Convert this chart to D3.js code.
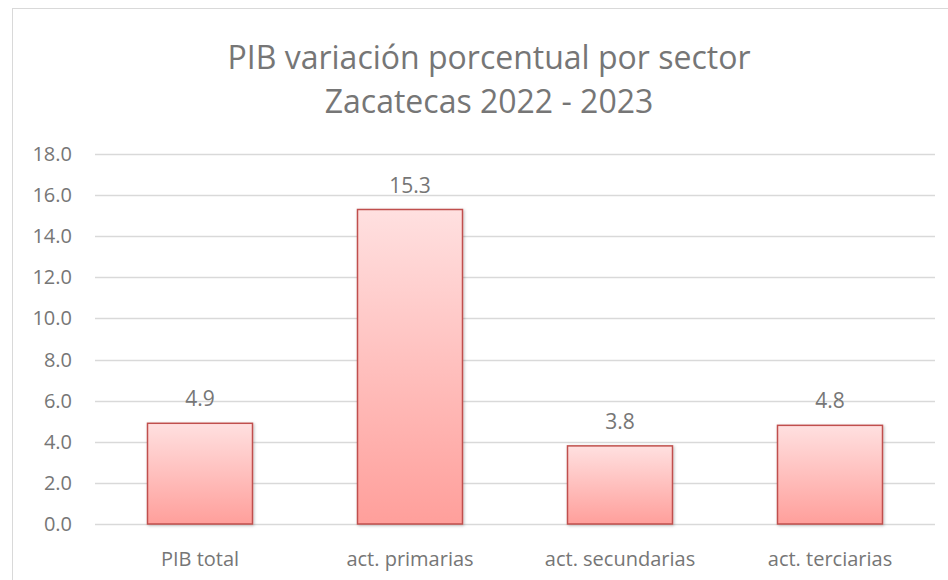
<!DOCTYPE html>
<html>
<head>
<meta charset="utf-8">
<script src="https://cdn.jsdelivr.net/npm/d3@7"></script>
<style>
  body { margin: 0; background: #fff; }
  text { font-family: "Open Sans", sans-serif; fill: #767676; }
</style>
</head>
<body>
<svg></svg>
<script>
let width = 948
let height = 580

let sectors = ['PIB total', 'act. primarias', 'act. secundarias', 'act. terciarias']
let values = [4.9, 15.3, 3.8, 4.8]
let yTicks = [0, 2, 4, 6, 8, 10, 12, 14, 16, 18]
let titleLines = ['PIB variación porcentual por sector', 'Zacatecas 2022 - 2023']

let margin = { top: 154, right: 13, bottom: 56, left: 95 }

let svg = d3.select('svg')
    .attr('width', width)
    .attr('height', height)

let defs = svg.append('defs')
let grad = defs.append('linearGradient')
    .attr('id', 'barFill')
    .attr('x1', 0).attr('y1', 0).attr('x2', 0).attr('y2', 1)
grad.append('stop').attr('offset', '0%').attr('stop-color', '#ffe0e0')
grad.append('stop').attr('offset', '100%').attr('stop-color', '#ff9f9b')

let shadow = defs.append('filter').attr('id', 'shadow')
    .attr('x', '-10%').attr('y', '-10%').attr('width', '130%').attr('height', '130%')
shadow.append('feDropShadow')
    .attr('dx', 1).attr('dy', 1).attr('stdDeviation', 1.5)
    .attr('flood-color', '#000').attr('flood-opacity', 0.25)

// chart area border
svg.append('rect')
    .attr('x', 12.5).attr('y', 8.5)
    .attr('width', width).attr('height', height)
    .attr('fill', 'none')
    .attr('stroke', '#d9d9d9')

svg.selectAll('.title')
  .data(titleLines)
  .enter()
  .append('text')
    .classed('title', true)
    .attr('x', 489)
    .attr('y', (d, i) => 69 + i * 44)
    .attr('text-anchor', 'middle')
    .style('font-size', '32px')
    .text(d => d)

let x = d3.scaleBand()
    .domain(sectors)
    .range([margin.left, width - margin.right])
    .paddingInner(0.5)
    .paddingOuter(0.25)

let y = d3.scaleLinear()
    .domain([0, 18])
    .range([height - margin.bottom, margin.top])

svg.append('g')
  .selectAll('line')
  .data(yTicks)
  .enter()
  .append('line')
    .attr('x1', margin.left)
    .attr('x2', width - margin.right)
    .attr('y1', d => Math.round(y(d)) + 0.5)
    .attr('y2', d => Math.round(y(d)) + 0.5)
    .attr('stroke', '#d9d9d9')
    .attr('stroke-width', 1.5)

svg.append('g')
  .selectAll('text')
  .data(yTicks)
  .enter()
  .append('text')
    .attr('x', 72)
    .attr('y', d => y(d) + 7)
    .attr('text-anchor', 'end')
    .style('font-size', '20px')
    .text(d => d.toFixed(1))

svg.append('g')
  .selectAll('rect')
  .data(values)
  .enter()
  .append('rect')
    .attr('x', (d, i) => x(sectors[i]))
    .attr('y', d => y(d))
    .attr('width', x.bandwidth())
    .attr('height', d => y(0) - y(d))
    .attr('fill', 'url(#barFill)')
    .attr('stroke', '#c0504d')
    .attr('stroke-width', 1.5)
    .attr('filter', 'url(#shadow)')

svg.append('g')
  .selectAll('text')
  .data(values)
  .enter()
  .append('text')
    .attr('x', (d, i) => x(sectors[i]) + x.bandwidth() / 2)
    .attr('y', d => y(d) - 17)
    .attr('text-anchor', 'middle')
    .style('font-size', '21px')
    .text(d => d.toFixed(1))

svg.append('g')
  .selectAll('text')
  .data(sectors)
  .enter()
  .append('text')
    .attr('x', d => x(d) + x.bandwidth() / 2)
    .attr('y', height - 14)
    .attr('text-anchor', 'middle')
    .style('font-size', '20px')
    .text(d => d)
</script>
</body>
</html>
